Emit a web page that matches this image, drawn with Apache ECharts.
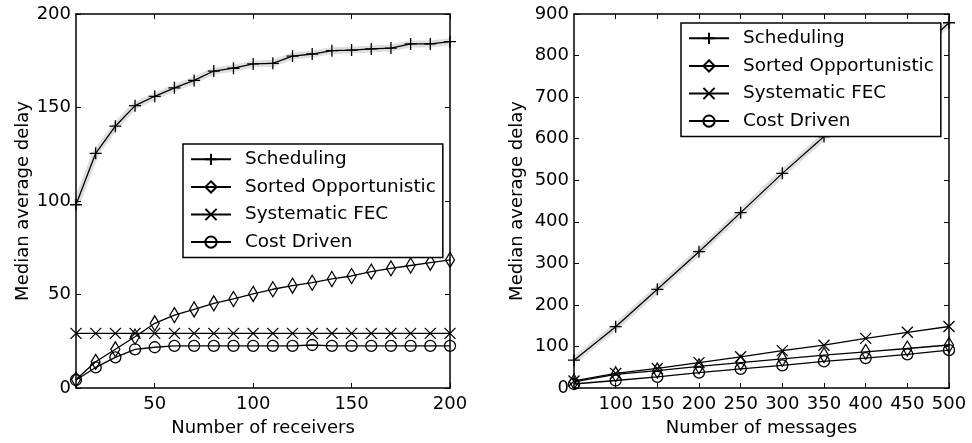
<!DOCTYPE html>
<html>
<head>
<meta charset="utf-8">
<script src="https://cdn.jsdelivr.net/npm/echarts@6/dist/echarts.min.js"></script>
<style>
html,body{margin:0;padding:0;background:#fff;}
#c{width:972px;height:443px;}
</style>
</head>
<body>
<div id="c"></div>
<script>
// ---- Data: left panel (Number of receivers) ----
var receivers = [10,20,30,40,50,60,70,80,90,100,110,120,130,140,150,160,170,180,190,200];
var recvScheduling = [98,125.5,140,151,156,160.5,164.5,169.5,171,173.3,173.6,177.5,178.6,180.4,180.7,181.3,181.8,184,184,185.2];
var recvSorted = [4.5,14,20.7,27.4,34.6,39,42,45.3,47.6,50.3,52.8,54.7,56.3,58.3,59.9,62.2,64,65.5,67,68.5];
var recvFEC = [29.2,29.2,29.2,29.2,29.2,29.2,29.2,29.2,29.2,29.2,29.2,29.2,29.2,29.2,29.2,29.2,29.2,29.2,29.2,29.2];
var recvCost = [4.3,11,16.4,20.7,21.8,22.5,22.5,22.5,22.5,22.5,22.5,22.5,23,22.5,22.5,22.5,22.5,22.5,22.5,22.5];

// ---- Data: right panel (Number of messages) ----
var messages = [50,100,150,200,250,300,350,400,450,500];
var msgScheduling = [67,147.5,237.5,328,422,516.5,605,695,787,879];
var msgSorted = [15,33,42,52,61,70,79,87,95,103.5];
var msgFEC = [17,35,47,61,75,90,103,119.5,134,148];
var msgCost = [9.6,18,27,37,46,54.5,64,72,81,91];

// ---- Tick labels ----
var leftXTicks = [50,100,150,200];
var rightXTicks = [100,150,200,250,300,350,400,450,500];
var names = ['Scheduling','Sorted Opportunistic','Systematic FEC','Cost Driven'];

function pairs(xs, ys){ return xs.map(function(x,i){ return [x, ys[i]]; }); }

var FONT = 'DejaVu Sans';
var FS = 18;
var symbols = {
  'Scheduling': {symbol:'path://M0,6H12M6,0V12', size:12},
  'Sorted Opportunistic': {symbol:'path://M5,0L10,8L5,16L0,8Z', size:[9,15]},
  'Systematic FEC': {symbol:'path://M0,0L12,12M0,12L12,0', size:11},
  'Cost Driven': {symbol:'circle', size:11}
};

function mkSeries(name, data, xi, yi){
  var s = symbols[name];
  return {
    type:'line', name:name, xAxisIndex:xi, yAxisIndex:yi, data:data,
    symbol:s.symbol, symbolSize:s.size, showSymbol:true, animation:false,
    lineStyle:{color:'#000', width:1.3},
    itemStyle:{color:'rgba(0,0,0,0)', borderColor:'#000', borderWidth:1.3},
    z:3
  };
}
function band(data, xi, yi){
  return {type:'line', xAxisIndex:xi, yAxisIndex:yi, data:data, symbol:'none', silent:true,
    animation:false, lineStyle:{color:'rgba(0,0,0,0.13)', width:7}, z:1};
}

function xAxisPair(gi, min, max, ticks, name){
  var base = {type:'value', gridIndex:gi, min:min, max:max, splitLine:{show:false},
    axisLine:{show:true, onZero:false, lineStyle:{color:'#000', width:1.5}}};
  var bottom = Object.assign({}, base, {
    position:'bottom', name:name, nameLocation:'middle', nameGap:31,
    nameTextStyle:{fontFamily:FONT, fontSize:FS, color:'#000'},
    axisTick:{show:true, inside:true, length:5, customValues:ticks, lineStyle:{color:'#000', width:1}},
    axisLabel:{show:true, customValues:ticks, hideOverlap:false, fontFamily:FONT, fontSize:FS, color:'#000', margin:7}
  });
  var top = Object.assign({}, base, {
    position:'top',
    axisTick:{show:true, inside:true, length:5, customValues:ticks, lineStyle:{color:'#000', width:1}},
    axisLabel:{show:false}
  });
  return [bottom, top];
}
function yAxisPair(gi, min, max, interval, gap){
  var base = {type:'value', gridIndex:gi, min:min, max:max, interval:interval, splitLine:{show:false},
    axisLine:{show:true, onZero:false, lineStyle:{color:'#000', width:1.5}}};
  var left = Object.assign({}, base, {
    position:'left', name:'Median average delay', nameLocation:'middle', nameGap:gap,
    nameTextStyle:{fontFamily:FONT, fontSize:FS, color:'#000'},
    axisTick:{show:true, inside:true, length:5, lineStyle:{color:'#000', width:1}},
    axisLabel:{show:true, fontFamily:FONT, fontSize:FS, color:'#000', margin:5}
  });
  var right = Object.assign({}, base, {
    position:'right',
    axisTick:{show:true, inside:true, length:5, lineStyle:{color:'#000', width:1}},
    axisLabel:{show:false}
  });
  return [left, right];
}

var lx = xAxisPair(0, 10, 200, leftXTicks, 'Number of receivers');
var rx = xAxisPair(1, 50, 500, rightXTicks, 'Number of messages');
var ly = yAxisPair(0, 0, 200, 50, 40);
var ry = yAxisPair(1, 0, 900, 100, 48);

function legend(left, top){
  return {
    show:true, data:names, orient:'vertical', left:left, top:top,
    backgroundColor:'#fff', borderColor:'#000', borderWidth:1.5, borderRadius:0,
    padding:[6,7,6,7], itemGap:9, itemWidth:40, itemHeight:14,
    textStyle:{fontFamily:FONT, fontSize:18.4, color:'#000', lineHeight:18.6, padding:[0,0,0,9]},
    selectedMode:false
  };
}

var option = {
  animation:false,
  backgroundColor:'#fff',
  grid:[
    {left:76, top:14, width:374, height:374},
    {left:574, top:14, width:375, height:374}
  ],
  xAxis:[lx[0], lx[1], rx[0], rx[1]],
  yAxis:[ly[0], ly[1], ry[0], ry[1]],
  legend:[legend(183,144), legend(681,23)],
  series:[
    band(pairs(receivers, recvScheduling), 0, 0),
    mkSeries('Scheduling', pairs(receivers, recvScheduling), 0, 0),
    mkSeries('Sorted Opportunistic', pairs(receivers, recvSorted), 0, 0),
    mkSeries('Systematic FEC', pairs(receivers, recvFEC), 0, 0),
    mkSeries('Cost Driven', pairs(receivers, recvCost), 0, 0),
    band(pairs(messages, msgScheduling), 2, 2),
    mkSeries('Scheduling', pairs(messages, msgScheduling), 2, 2),
    mkSeries('Sorted Opportunistic', pairs(messages, msgSorted), 2, 2),
    mkSeries('Systematic FEC', pairs(messages, msgFEC), 2, 2),
    mkSeries('Cost Driven', pairs(messages, msgCost), 2, 2)
  ]
};

var chart = echarts.init(document.getElementById('c'), null, {renderer:'canvas'});
chart.setOption(option);
</script>
</body>
</html>
